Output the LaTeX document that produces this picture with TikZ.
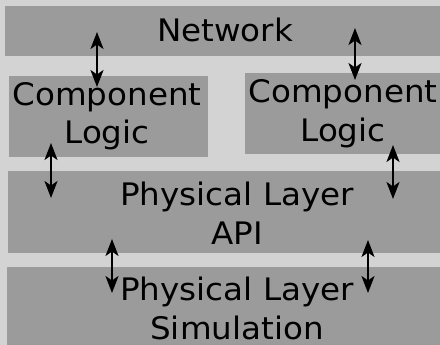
\documentclass[tikz,border=0pt]{standalone}
\usepackage{fontspec}
\setmainfont{DejaVu Sans}[FakeStretch=1.05]
\usetikzlibrary{arrows.meta}
\definecolor{pagegray}{RGB}{211,211,211}
\definecolor{layergray}{RGB}{155,155,155}
\tikzset{
  layer/.style={fill=layergray, draw=none},
  lbl/.style={anchor=base, inner sep=0pt, outer sep=0pt, align=center,
              font=\fontsize{31}{39}\selectfont},
  link/.style={line width=2.2pt, {Stealth[length=17pt,width=13pt,inset=4.5pt]}-{Stealth[length=17pt,width=13pt,inset=4.5pt]}},
}
\begin{document}
\begin{tikzpicture}[x=1pt,y=-1pt]
  \useasboundingbox (0,0) rectangle (440,345);
  \clip (0,0) rectangle (440,345);
  \fill[pagegray] (0,0) rectangle (440,345);

  % layers
  \path[layer] (5,6) rectangle (445,56) node[pos=0.5, inner sep=0] (net) {};
  \path[layer] (9,76) rectangle (208,157) node[pos=0.5, inner sep=0] (compL) {};
  \path[layer] (245,73) rectangle (445,154) node[pos=0.5, inner sep=0] (compR) {};
  \path[layer] (8,171) rectangle (445,253) node[pos=0.5, inner sep=0] (api) {};
  \path[layer] (7,267) rectangle (445,350) node[pos=0.5, inner sep=0] (sim) {};

  % labels (base anchor sits on the last line)
  \node[lbl] (netTxt) at (225,41.7) {Network};
  \node[lbl] (compLTxt) at (107,144) {Component\\Logic};
  \node[lbl] (compRTxt) at (343,142) {Component\\Logic};
  \node[lbl] (apiTxt) at (237,244) {Physical Layer\\API};
  \node[lbl] (simTxt) at (237,339) {Physical Layer\\Simulation};

  % connector end points
  \coordinate (a1) at (97,32);   \coordinate (b1) at (97,87);
  \coordinate (a2) at (355,28);  \coordinate (b2) at (355,80);
  \coordinate (a3) at (51,143);  \coordinate (b3) at (51,198);
  \coordinate (a4) at (393,145); \coordinate (b4) at (393,199);
  \coordinate (a5) at (112,239); \coordinate (b5) at (112,293);
  \coordinate (a6) at (368,240); \coordinate (b6) at (368,293);

  \draw[link] (a1) -- (b1);
  \draw[link] (a2) -- (b2);
  \draw[link] (a3) -- (b3);
  \draw[link] (a4) -- (b4);
  \draw[link] (a5) -- (b5);
  \draw[link] (a6) -- (b6);
\end{tikzpicture}
\end{document}
